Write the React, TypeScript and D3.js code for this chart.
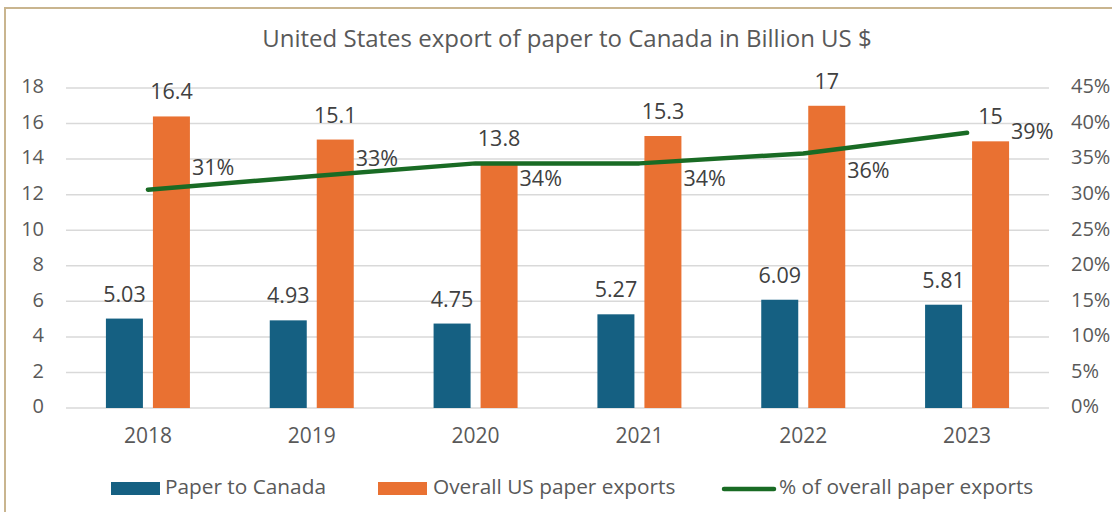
import React from 'react';
import * as d3 from 'd3';

// data
const years = ['2018', '2019', '2020', '2021', '2022', '2023'];
const paperToCanada = [5.03, 4.93, 4.75, 5.27, 6.09, 5.81];
const overallExports = [16.4, 15.1, 13.8, 15.3, 17, 15];
const shareOfOverall = [0.307, 0.326, 0.344, 0.344, 0.358, 0.387];
const leftTicks = [0, 2, 4, 6, 8, 10, 12, 14, 16, 18];
const rightTicks = [0, 0.05, 0.1, 0.15, 0.2, 0.25, 0.3, 0.35, 0.4, 0.45];

const BLUE = '#156082';
const ORANGE = '#E97132';
const GREEN = '#196B24';
const TEXT = '#595959';
const LABEL = '#404040';
const GRID = '#D9D9D9';
const FONT = '"Open Sans", "Liberation Sans", sans-serif';

// vertical nudges for the % labels, the way they sit in the original
const pctLabelDy = [-20, -16, 17, 17, 19, 0];

const W = 1112;
const H = 512;
const plot = { left: 66, right: 1049, top: 88, bottom: 408 };

export default function App() {
  const x = d3.scaleBand<string>().domain(years).range([plot.left, plot.right]).padding(0);
  const y = d3.scaleLinear().domain([0, 18]).range([plot.bottom, plot.top]);
  const yr = d3.scaleLinear().domain([0, 0.45]).range([plot.bottom, plot.top]);
  const cx = (yr_: string) => (x(yr_) ?? 0) + x.bandwidth() / 2;

  const barW = 37;
  const gap = 5;
  const pct = d3.format('.0%');

  const line = d3
    .line<number>()
    .x((_, i) => cx(years[i]))
    .y(d => yr(d))
    .curve(d3.curveLinear);

  return (
    <div style={{ position: 'absolute', left: 0, top: 0 }}>
      <svg width={W} height={H} style={{ display: 'block', background: '#fff' }} fontFamily={FONT}>
        <rect x={5} y={8} width={W + 40} height={H + 40} fill="#fff" stroke="#C9B58F" strokeWidth={2} />

        <text x={567} y={41} textAnchor="middle" dominantBaseline="middle" fontSize={24} fill={TEXT}>
          United States export of paper to Canada in Billion US $
        </text>

        {/* gridlines + axes */}
        {leftTicks.map(t => (
          <g key={'l' + t}>
            <line x1={plot.left} x2={plot.right} y1={y(t)} y2={y(t)} stroke={GRID} strokeWidth={1.5} />
            <text x={44} y={y(t)} textAnchor="end" dominantBaseline="middle" fontSize={20} fill={TEXT}>
              {t}
            </text>
          </g>
        ))}
        {rightTicks.map(t => (
          <text key={'r' + t} x={1071} y={yr(t)} textAnchor="start" dominantBaseline="middle" fontSize={20} fill={TEXT}>
            {pct(t)}
          </text>
        ))}
        {years.map(yy => (
          <text key={'x' + yy} x={cx(yy)} y={437} textAnchor="middle" dominantBaseline="middle" fontSize={21} fill={TEXT}>
            {yy}
          </text>
        ))}

        {/* bars */}
        {years.map((yy, i) => (
          <g key={'b' + yy}>
            <rect x={cx(yy) - gap - barW} y={y(paperToCanada[i])} width={barW} height={y(0) - y(paperToCanada[i])} fill={BLUE} />
            <rect x={cx(yy) + gap} y={y(overallExports[i])} width={barW} height={y(0) - y(overallExports[i])} fill={ORANGE} />
            <text x={cx(yy) - gap - barW / 2} y={y(paperToCanada[i]) - 17} textAnchor="middle" fontSize={21.5} fill={LABEL}>
              {String(paperToCanada[i])}
            </text>
            <text x={cx(yy) + gap + barW / 2} y={y(overallExports[i]) - 17} textAnchor="middle" fontSize={21.5} fill={LABEL}>
              {String(overallExports[i])}
            </text>
          </g>
        ))}

        {/* share line */}
        <path d={line(shareOfOverall) ?? ''} fill="none" stroke={GREEN} strokeWidth={4.5} strokeLinecap="round" strokeLinejoin="round" />
        {shareOfOverall.map((v, i) => (
          <text key={'p' + i} x={cx(years[i]) + 44} y={yr(v) + pctLabelDy[i]} dominantBaseline="middle" fontSize={21.5} fill={LABEL}>
            {pct(v)}
          </text>
        ))}

        {/* legend */}
        <rect x={111} y={482} width={49} height={13} fill={BLUE} />
        <text x={165} y={488.5} dominantBaseline="middle" fontSize={20.8} fill={TEXT}>Paper to Canada</text>
        <rect x={378} y={482} width={49} height={13} fill={ORANGE} />
        <text x={433} y={488.5} dominantBaseline="middle" fontSize={20.8} fill={TEXT}>Overall US paper exports</text>
        <line x1={724} x2={774} y1={489} y2={489} stroke={GREEN} strokeWidth={4.5} strokeLinecap="round" />
        <text x={779} y={488.5} dominantBaseline="middle" fontSize={20.8} fill={TEXT}>% of overall paper exports</text>
      </svg>
    </div>
  );
}
